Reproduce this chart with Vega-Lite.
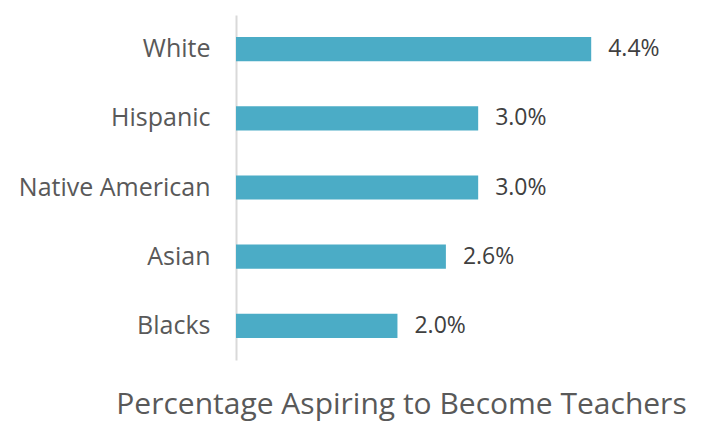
{
  "$schema": "https://vega.github.io/schema/vega-lite/v6.json",
  "width": 444,
  "height": 345,
  "autosize": "none",
  "padding": {"left": 236, "top": 15, "right": 21, "bottom": 61},
  "background": "white",
  "config": {"view": {"stroke": null}, "font": "Open Sans"},
  "data": {
    "values": [
      {"group": "White", "pct": 0.044},
      {"group": "Hispanic", "pct": 0.030},
      {"group": "Native American", "pct": 0.030},
      {"group": "Asian", "pct": 0.026},
      {"group": "Blacks", "pct": 0.020}
    ]
  },
  "encoding": {
    "y": {
      "field": "group", "type": "nominal", "sort": null,
      "scale": {"paddingInner": 0.65, "paddingOuter": 0.32},
      "axis": {
        "title": null, "ticks": false, "labelPadding": 26, "labelLimit": 0,
        "labelFontSize": 25, "labelColor": "#595959", "labelFont": "Open Sans",
        "domainColor": "#D9D9D9", "domainWidth": 2, "grid": false
      }
    },
    "x": {
      "field": "pct", "type": "quantitative",
      "scale": {"domain": [0, 0.055], "nice": false},
      "axis": {
        "title": "Percentage Aspiring to Become Teachers",
        "domain": false, "ticks": false, "labels": false, "grid": false,
        "titleFontSize": 30, "titleFontWeight": "normal", "titleColor": "#595959",
        "titleFont": "Open Sans",
        "titleX": 165, "titleY": 53, "titleAnchor": "middle", "titleAlign": "center",
        "titleBaseline": "alphabetic"
      }
    }
  },
  "layer": [
    {"mark": {"type": "bar", "color": "#4BACC6"}},
    {
      "mark": {"type": "text", "align": "left", "baseline": "middle", "dx": 17, "fontSize": 23, "color": "#404040", "font": "Open Sans"},
      "encoding": {"text": {"field": "pct", "type": "quantitative", "format": ".1%"}}
    }
  ]
}
